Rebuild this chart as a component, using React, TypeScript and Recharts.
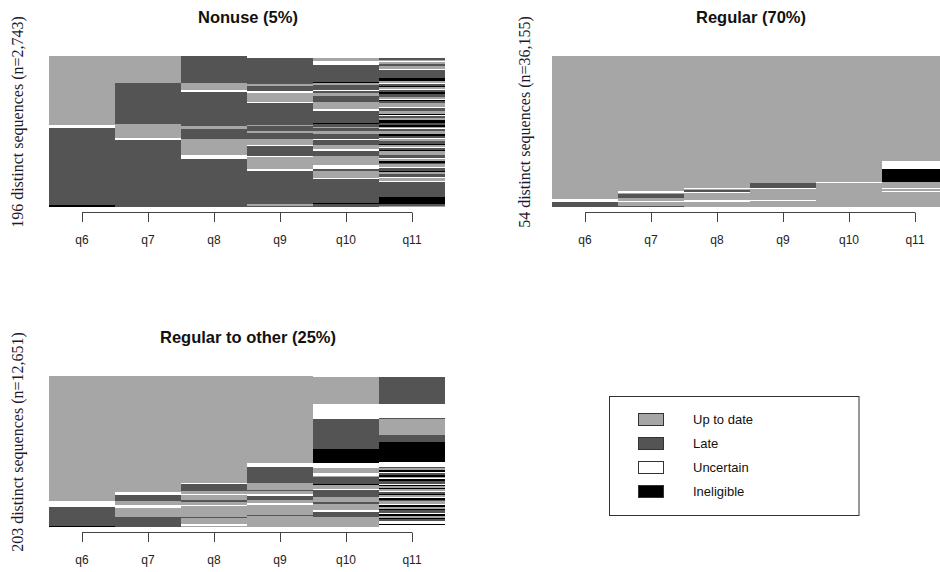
import { Bar, BarChart, Cell, XAxis, YAxis } from 'recharts'

const waves = ['q6', 'q7', 'q8', 'q9', 'q10', 'q11']
const stateCodes = ['A', 'L', 'U', 'I']
const stateNames = ['Up to date', 'Late', 'Uncertain', 'Ineligible']
const stateColors = ['#a6a6a6', '#545454', '#ffffff', '#000000']

type Seg = [string, number]

// share of sequences (%) per state, stacked from the bottom, one list per wave
const nonuse: Seg[][] = [
  [['I', 1.5], ['L', 51], ['U', 1.5], ['A', 46]],
  [['L', 44.7], ['U', 0.7], ['A', 9.4], ['L', 27.5], ['A', 17.7]],
  [['L', 32], ['U', 2.2], ['A', 10.6], ['U', 0.5], ['L', 6.4], ['A', 1.8], ['L', 22.8], ['U', 1.5], ['A', 4.4], ['L', 17.8]],
  [['L', 0.9], ['A', 0.9], ['L', 22], ['U', 1.6], ['A', 7.7], ['U', 0.9], ['L', 6.2], ['U', 0.7], ['A', 4], ['L', 4.4], ['A', 1.1],
    ['L', 3.1], ['A', 0.9], ['L', 14.7], ['U', 0.7], ['A', 5.9], ['U', 1.1], ['L', 3.5], ['A', 1.1], ['L', 17.6], ['U', 0.7]],
  [['L', 1.8], ['I', 1.1], ['L', 15.4], ['U', 0.9], ['A', 4.4], ['L', 1.8], ['U', 2.2], ['A', 5.9], ['L', 3.5], ['U', 1.1], ['A', 3.1],
    ['L', 3.3], ['U', 0.7], ['L', 3.3], ['A', 1.7], ['L', 2], ['A', 1.1], ['L', 1.5], ['I', 0.7], ['L', 8.4], ['U', 1.1], ['A', 4.8],
    ['L', 4], ['A', 1.5], ['L', 1.3], ['U', 0.9], ['L', 3], ['A', 1.3], ['I', 0.7], ['L', 11.7], ['U', 2.6], ['A', 2.2]],
  [['A', 0.7], ['L', 1.3], ['I', 4.8], ['L', 9.9],
    ['U', 0.8], ['A', 1.5], ['U', 0.6], ['L', 2.5], ['A', 1.2], ['I', 0.7], ['L', 1.5], ['U', 0.7], ['A', 2], ['L', 1.2], ['I', 0.8],
    ['A', 1.5], ['U', 0.6], ['L', 2], ['A', 2.5], ['I', 0.7], ['L', 1.3], ['U', 0.7], ['A', 1.5], ['I', 1], ['L', 2], ['A', 1.2],
    ['U', 0.6], ['L', 1.5], ['I', 0.8], ['A', 2], ['L', 1.4], ['U', 0.6], ['A', 1.2], ['I', 0.7], ['L', 1.5],
    ['I', 2.2],
    ['A', 1.5], ['L', 1.2], ['U', 0.7], ['I', 0.8], ['A', 2], ['L', 1.5], ['U', 0.6], ['A', 3], ['L', 1.2], ['I', 0.7], ['U', 0.7],
    ['A', 1.5], ['L', 2], ['I', 1], ['L', 1.3], ['U', 0.6], ['A', 1.2], ['I', 0.8], ['L', 1.5], ['U', 0.7], ['A', 1],
    ['I', 2.2], ['L', 5.5],
    ['U', 0.7], ['A', 1.5], ['U', 0.6], ['L', 1], ['A', 1.2], ['U', 0.7], ['A', 1], ['L', 1]],
]

const regular: Seg[][] = [
  [['L', 3.1], ['U', 2.2], ['A', 94.7]],
  [['L', 0.7], ['A', 2.4], ['U', 0.9], ['A', 2.2], ['L', 2.6], ['A', 0.7], ['U', 0.9], ['A', 89.6]],
  [['A', 3.6], ['U', 0.9], ['A', 4.6], ['U', 0.9], ['L', 1.3], ['A', 0.5], ['U', 1.1], ['A', 87.1]],
  [['A', 3.8], ['U', 0.7], ['A', 7.5], ['U', 0.9], ['L', 2.9], ['A', 84.2]],
  [['A', 15.9], ['U', 0.9], ['A', 83.2]],
  [['A', 9.7], ['U', 0.9], ['A', 1.1], ['U', 0.9], ['A', 4], ['I', 8.4], ['U', 5.5], ['A', 69.5]],
]

const regularToOther: Seg[][] = [
  [['I', 0.9], ['L', 12.3], ['U', 3.8], ['A', 83]],
  [['L', 6.6], ['A', 6.2], ['U', 1.5], ['A', 2.6], ['L', 4.6], ['U', 1.5], ['A', 77]],
  [['A', 0.9], ['U', 0.9], ['A', 4.2], ['L', 0.7], ['A', 7], ['U', 1.1], ['A', 1.8], ['L', 1.5], ['A', 3.3], ['U', 0.7], ['A', 1.8],
    ['L', 4.6], ['U', 0.7], ['A', 70.8]],
  [['A', 7], ['L', 1.1], ['A', 6.6], ['U', 1.1], ['A', 2.2], ['L', 2.8], ['U', 1.1], ['A', 1.8], ['L', 0.5], ['A', 5.1], ['L', 10.3],
    ['U', 2.9], ['A', 57.5]],
  [['A', 6.6], ['L', 3.3], ['U', 1.1], ['A', 4.4], ['L', 1.1], ['A', 3.3], ['L', 4.4], ['U', 1], ['A', 2.3], ['I', 1.1], ['L', 4.4],
    ['A', 1.1], ['U', 1.5], ['A', 3.5], ['U', 3.1], ['I', 9.4], ['L', 19.8], ['U', 9.9], ['A', 18.3]],
  [['U', 1.2], ['I', 1], ['U', 1.5], ['L', 1.5], ['I', 0.8], ['A', 1.5], ['I', 1], ['U', 0.7], ['L', 2], ['I', 0.8], ['A', 1.5],
    ['I', 1], ['U', 0.7], ['A', 2], ['L', 1], ['I', 1], ['U', 0.6], ['A', 1.5], ['I', 0.8], ['L', 1.2], ['U', 0.6], ['A', 1.2],
    ['I', 1], ['A', 1], ['I', 0.8], ['U', 0.8], ['L', 1.5], ['I', 1.5], ['U', 0.6], ['A', 1], ['I', 1.2], ['L', 1], ['U', 0.8],
    ['I', 1.5], ['A', 1], ['L', 1.2],
    ['U', 2.8], ['I', 13.2], ['L', 5.1], ['A', 10.1], ['L', 0.9], ['U', 9.2], ['L', 18.2]],
]

const colorOf = (code: string) => stateColors[stateCodes.indexOf(code)]

function WaveTick(props: any) {
  const { x, y, payload, index, half } = props
  const last = index === waves.length - 1
  return (
    <g>
      <line x1={index === 0 ? x : x - half} x2={last ? x : x + half} y1={y + 5.5} y2={y + 5.5} stroke="#444" />
      <line x1={x + 0.5} x2={x + 0.5} y1={y + 5.5} y2={y + 15} stroke="#444" />
      <text x={x} y={y + 37} textAnchor="middle" fontSize={12} fontFamily="Arial, 'Liberation Sans', sans-serif" fill="#222">
        {payload.value}
      </text>
    </g>
  )
}

function SeqPanel({ cols, width, height, margin, axisHeight }: any) {
  const n = Math.max(...cols.map((c: Seg[]) => c.length))
  const keys = Array.from({ length: n }, (_, k) => k)
  const rows = waves.map((w, i) => {
    const row: any = { wave: w }
    keys.forEach((k) => (row['s' + k] = cols[i][k] ? cols[i][k][1] : 0))
    return row
  })
  const half = (width - margin.left - margin.right) / waves.length / 2
  return (
    <BarChart width={width} height={height} data={rows} margin={margin} barCategoryGap={0} barGap={0}>
      <XAxis
        dataKey="wave"
        interval={0}
        height={axisHeight}
        axisLine={false}
        tickLine={false}
        tickSize={0}
        tickMargin={0}
        tick={(p: any) => <WaveTick {...p} half={half} />}
      />
      <YAxis hide domain={[0, 100]} allowDataOverflow />
      {keys.map((k) => (
        <Bar key={k} dataKey={'s' + k} stackId="seq" isAnimationActive={false} shapeRendering="crispEdges">
          {rows.map((r, i) => (
            <Cell key={r.wave} fill={cols[i][k] ? colorOf(cols[i][k][0]) : 'none'} />
          ))}
        </Bar>
      ))}
    </BarChart>
  )
}

const titleFont = "Arial, 'Liberation Sans', sans-serif"
const serifFont = "'Liberation Serif', 'Times New Roman', serif"

function App() {
  return (
    <div style={{ position: 'absolute', left: 0, top: 0, width: 940, height: 572, overflow: 'hidden', background: '#fff' }}>
      <div style={{ position: 'absolute', left: 0, top: 0 }}>
        <SeqPanel cols={nonuse} width={460} height={260} axisHeight={45}
          margin={{ top: 56, left: 49, right: 15, bottom: 8 }} />
      </div>
      <div style={{ position: 'absolute', left: 500, top: 0, width: 440, height: 260, overflow: 'hidden' }}>
        <SeqPanel cols={regular} width={460} height={260} axisHeight={45}
          margin={{ top: 56, left: 52, right: 12, bottom: 8 }} />
      </div>
      <div style={{ position: 'absolute', left: 0, top: 320 }}>
        <SeqPanel cols={regularToOther} width={460} height={252} axisHeight={44}
          margin={{ top: 56, left: 49, right: 15, bottom: 1 }} />
      </div>

      <svg width={940} height={572} style={{ position: 'absolute', left: 0, top: 0, pointerEvents: 'none' }}>
        <g fontFamily={titleFont} fontWeight="bold" fontSize={16.5} fill="#111" textAnchor="middle">
          <text x={248} y={23}>Nonuse (5%)</text>
          <text x={751} y={23}>Regular (70%)</text>
          <text x={248} y={343}>Regular to other (25%)</text>
        </g>
        <g fontFamily={serifFont} fontSize={16} fill="#1a1a2a" textAnchor="middle">
          <text transform="translate(23,122) rotate(-90)">196 distinct sequences (n=2,743)</text>
          <text transform="translate(530,122) rotate(-90)">54 distinct sequences (n=36,155)</text>
          <text transform="translate(23,442) rotate(-90)">203 distinct sequences (n=12,651)</text>
        </g>
        <rect x={609.5} y={396.5} width={249.5} height={119} fill="#fff" stroke="#333" />
        {stateNames.map((name, i) => (
          <g key={name}>
            <rect x={638.5} y={413.5 + i * 24} width={25} height={12} fill={stateColors[i]} stroke="#333" />
            <text x={693} y={424 + i * 24} fontFamily={titleFont} fontSize={13} fill="#111">{name}</text>
          </g>
        ))}
      </svg>
    </div>
  )
}

export default App
